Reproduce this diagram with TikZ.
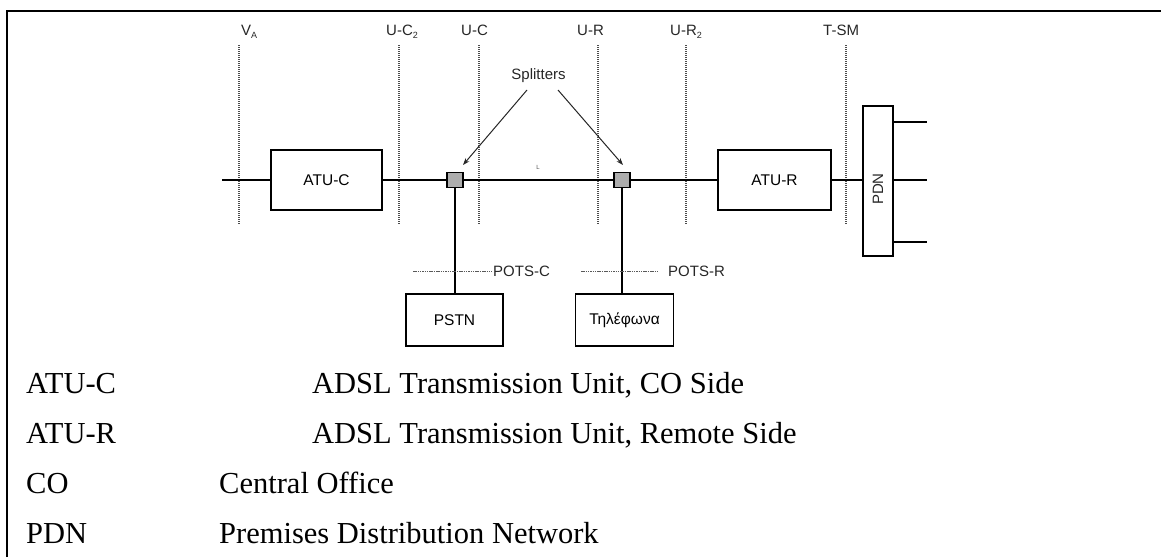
\documentclass[tikz,border=0pt]{standalone}
\usepackage{fontspec}
\setmainfont{Liberation Serif}
\newfontfamily\diagfont{Liberation Sans}
\usetikzlibrary{arrows.meta,calc}
\begin{document}
\begin{tikzpicture}[x=1pt,y=-1pt,
  wire/.style={line width=1.3pt},
  unitbox/.style={draw, line width=1.3pt, inner sep=0pt, font=\diagfont\fontsize{15.5}{15.5}\selectfont},
  splitbox/.style={draw, line width=1.2pt, fill=black!32, minimum width=16pt, minimum height=15pt, inner sep=0pt},
  vline/.style={draw=black!70, line width=1.2pt, dash pattern=on 1.2pt off 0.8pt},
  hline/.style={draw=black!65, line width=1pt, dash pattern=on 1.5pt off 0.8pt},
  toplab/.style={anchor=base west, inner sep=0pt, font=\diagfont\fontsize{15}{15}\selectfont, text=black!85},
  difflab/.style={inner sep=0pt, font=\diagfont\fontsize{15}{15}\selectfont, text=black!85},
  legend/.style={anchor=base west, inner sep=0pt, font=\fontsize{30.5}{30.5}\selectfont},
  pointer/.style={line width=1pt, draw=black!85, -{Stealth[length=7pt,width=5pt]}}
]
\useasboundingbox (0,0) rectangle (1161,557);
% frame
\draw[line width=1.3pt] (7,557) -- (7,11) -- (1161,11);

% reference point lines
\draw[vline] (239,45) -- (239,224);
\draw[vline] (399,45) -- (399,224);
\draw[vline] (479,45) -- (479,224);
\draw[vline] (598,45) -- (598,224);
\draw[vline] (686,45) -- (686,224);
\draw[vline] (846,45) -- (846,224);

\newcommand{\subsc}[1]{\raisebox{-0.45ex}{\fontsize{9}{9}\selectfont #1}}
\node[toplab] (lva) at (241,35) {V\subsc{A}};
\node[toplab] (luc2) at (386,35) {U-C\subsc{2}};
\node[toplab] (luc) at (461,35) {U-C};
\node[toplab] (lur) at (577,35) {U-R};
\node[toplab] (lur2) at (670,35) {U-R\subsc{2}};
\node[toplab] (ltsm) at (823,35) {T-SM};

% units
\node[unitbox, minimum width=111pt, minimum height=60pt] (atuc) at (326.5,180) {ATU-C};
\node[unitbox, minimum width=113pt, minimum height=60pt] (atur) at (774.5,180) {ATU-R};
\node[unitbox, minimum width=30pt, minimum height=150pt] (pdn) at (878,181) {};
\node[inner sep=0pt, rotate=90, font=\diagfont\fontsize{15}{15}\selectfont, text=black!85] (pdnlab) at (878,189) {PDN};
\node[unitbox, minimum width=97pt, minimum height=52pt] (pstn) at (454.5,320) {PSTN};
\node[unitbox, minimum width=98pt, minimum height=52pt] (tel) at (624.5,320) {Τηλέφωνα};
\node[splitbox] (s1) at (455,180) {};
\node[splitbox] (s2) at (622,180) {};

% wiring
\coordinate (in) at (222,180);
\draw[wire] (in) -- (atuc.west);
\draw[wire] (atuc.east) -- (s1.west);
\draw[wire] (s1.east) -- (s2.west);
\draw[wire] (s2.east) -- (atur.west);
\draw[wire] (atur.east) -- (atur.east -| pdn.west);
\draw[wire] (s1.south) -- (s1.south |- pstn.north);
\draw[wire] (s2.south) -- (s2.south |- tel.north);
\coordinate (o1) at (927,122);
\coordinate (o2) at (927,180);
\coordinate (o3) at (927,242);
\draw[wire] (o1 -| pdn.east) -- (o1);
\draw[wire] (o2 -| pdn.east) -- (o2);
\draw[wire] (o3 -| pdn.east) -- (o3);

\node[inner sep=0pt, font=\diagfont\fontsize{6}{6}\selectfont, text=black!70] (lL) at (538,167) {L};

% splitters label and pointers
\node[difflab, anchor=base] (spl) at (538.5,79) {Splitters};
\coordinate (a1) at (527,90);
\coordinate (a2) at (558,90);
\coordinate (e1) at (463,165);
\coordinate (e2) at (623,165);
\draw[pointer] (a1) -- (e1);
\draw[pointer] (a2) -- (e2);

% POTS interfaces
\draw[hline] (413,271) -- (492,271);
\node[difflab, anchor=west] (potsc) at (493,271) {POTS-C};
\draw[hline] (581,271) -- (659,271);
\node[difflab, anchor=west] (potsr) at (668,271) {POTS-R};

% legend
\node[legend] (k1) at (26,393) {ATU-C};
\node[legend] (v1) at (312,393) {ADSL Transmission Unit, CO Side};
\node[legend] (k2) at (26,443) {ATU-R};
\node[legend] (v2) at (312,443) {ADSL Transmission Unit, Remote Side};
\node[legend] (k3) at (26,493) {CO};
\node[legend] (v3) at (219,493) {Central Office};
\node[legend] (k4) at (26,543) {PDN};
\node[legend] (v4) at (219,543) {Premises Distribution Network};
\end{tikzpicture}
\end{document}
